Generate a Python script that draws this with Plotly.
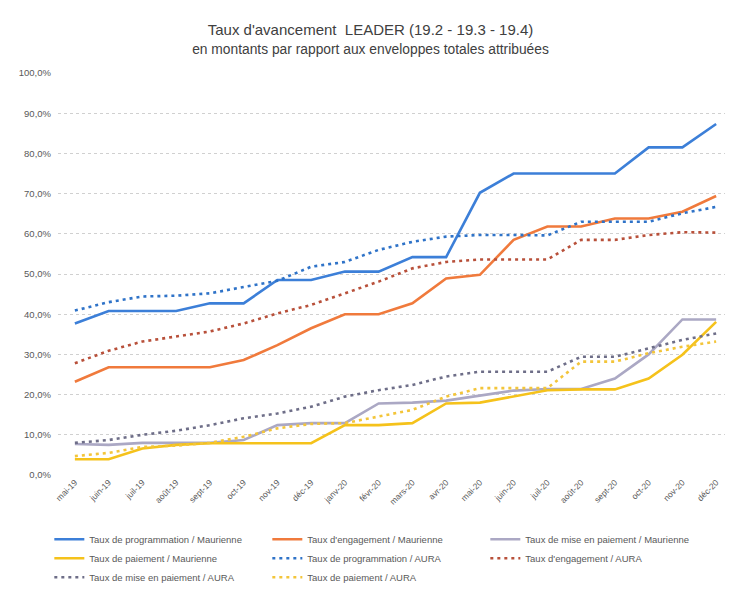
import plotly.graph_objects as go

months = ["mai-19", "juin-19", "juil-19", "août-19", "sept-19", "oct-19", "nov-19", "déc-19",
          "janv-20", "févr-20", "mars-20", "avr-20", "mai-20", "juin-20", "juil-20", "août-20",
          "sept-20", "oct-20", "nov-20", "déc-20"]

prog_maurienne = [37.7, 40.8, 40.8, 40.8, 42.7, 42.7, 48.5, 48.5, 50.6, 50.6, 54.2, 54.2, 70.2, 75.0, 75.0, 75.0, 75.0, 81.5, 81.5, 87.3]
eng_maurienne = [23.2, 26.8, 26.8, 26.8, 26.8, 28.6, 32.3, 36.5, 40.0, 40.0, 42.7, 48.9, 49.8, 58.5, 61.8, 61.8, 63.8, 63.8, 65.5, 69.4]
mise_maurienne = [7.7, 7.5, 8.0, 8.0, 8.0, 8.7, 12.4, 12.9, 12.9, 17.8, 18.0, 18.5, 19.7, 21.0, 21.4, 21.4, 24.0, 30.0, 38.7, 38.7]
paie_maurienne = [3.9, 3.9, 6.6, 7.5, 7.9, 7.9, 7.9, 7.9, 12.4, 12.4, 12.9, 17.8, 18.0, 19.5, 21.1, 21.3, 21.3, 24.0, 29.9, 38.1]
prog_aura = [40.9, 43.0, 44.4, 44.6, 45.2, 46.8, 48.3, 51.8, 53.0, 56.0, 58.0, 59.3, 59.7, 59.7, 59.6, 63.0, 63.0, 63.0, 65.1, 66.7]
eng_aura = [27.8, 30.9, 33.2, 34.4, 35.7, 37.7, 40.2, 42.3, 45.2, 48.1, 51.4, 53.0, 53.6, 53.6, 53.6, 58.5, 58.5, 59.7, 60.4, 60.3]
mise_aura = [8.0, 8.7, 10.0, 11.0, 12.4, 14.1, 15.3, 17.0, 19.5, 21.1, 22.4, 24.5, 25.7, 25.7, 25.7, 29.4, 29.4, 31.5, 33.6, 35.2]
paie_aura = [4.7, 5.5, 7.0, 7.3, 8.0, 9.5, 11.6, 12.7, 12.9, 14.5, 16.2, 19.5, 21.6, 21.6, 21.6, 28.2, 28.2, 30.3, 31.9, 33.2]

y_ticks = [0, 10, 20, 30, 40, 50, 60, 70, 80, 90, 100]
y_tick_labels = [f"{v},0%" for v in y_ticks]

FONT = "Liberation Sans Narrow, Arial Narrow, Liberation Sans, sans-serif"

series = [
    ("Taux de programmation / Maurienne", prog_maurienne, "#3C7FD8", "solid"),
    ("Taux d'engagement / Maurienne", eng_maurienne, "#F07A3C", "solid"),
    ("Taux de mise en paiement / Maurienne", mise_maurienne, "#ABA8C4", "solid"),
    ("Taux de paiement / Maurienne", paie_maurienne, "#F5C21B", "solid"),
    ("Taux de programmation / AURA", prog_aura, "#2F73C8", "3px,4px"),
    ("Taux d'engagement / AURA", eng_aura, "#B8503A", "3px,4px"),
    ("Taux de mise en paiement / AURA", mise_aura, "#6E6E88", "3px,4px"),
    ("Taux de paiement / AURA", paie_aura, "#F3C53A", "3px,4px"),
]

fig = go.Figure()
for name, vals, color, dash in series:
    fig.add_trace(go.Scatter(
        x=months, y=vals, name=name, mode="lines",
        line=dict(color=color, width=2.6, dash=dash),
    ))

fig.update_layout(
    width=725, height=582,
    paper_bgcolor="white", plot_bgcolor="white",
    margin=dict(l=50, r=0, t=65, b=115),
    font=dict(family=FONT, color="#595959"),
    title=dict(
        text="Taux d'avancement  LEADER (19.2 - 19.3 - 19.4)<br><span style='font-size:13.8px'>en montants par rapport aux enveloppes totales attribuées</span>",
        x=0.5, xanchor="center", xref="container",
        y=0.954, yanchor="middle", yref="container",
        font=dict(size=15, color="#404040", family=FONT),
    ),
    showlegend=True,
    legend=dict(
        orientation="h", x=0.057, xanchor="left", xref="container",
        y=0.112, yanchor="top", yref="container",
        entrywidth=173, entrywidthmode="pixels",
        font=dict(size=9.5, color="#595959", family=FONT),
        itemwidth=30, tracegroupgap=0,
    ),
    xaxis=dict(
        type="category", range=[-0.5, 19.5], automargin=False,
        tickangle=-45, tickfont=dict(size=8.5, color="#595959"),
        showgrid=False, showline=False, zeroline=False, ticks="",
    ),
    yaxis=dict(
        range=[0, 100], tickmode="array", tickvals=y_ticks, ticktext=y_tick_labels,
        automargin=False, ticklabelstandoff=6,
        tickfont=dict(size=9.5, color="#595959"),
        showgrid=True, gridcolor="#D0D0D0", griddash="dot", gridwidth=1,
        zeroline=False, showline=False,
    ),
)

fig.write_html("out.html")
